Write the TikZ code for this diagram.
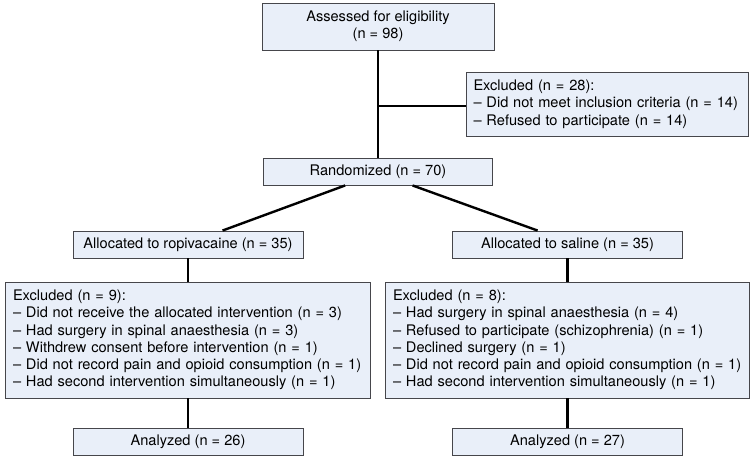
\documentclass[tikz,border=0pt]{standalone}
\usepackage{fontspec}
\setmainfont{TeX Gyre Heros}
\definecolor{boxfill}{RGB}{233,239,249}
\definecolor{boxline}{RGB}{70,70,75}
\begin{document}
\begin{tikzpicture}[x=1pt,y=-1pt,
		every node/.style={font=\fontsize{14.6}{17.3}\selectfont},
		box/.style={draw=boxline,line width=0.9pt,fill=boxfill,inner sep=0pt,minimum height=27pt},
		listbox/.style={box,align=left,text width=#1,inner xsep=7.5pt},
		link/.style={line width=2.4pt}]
		
		\useasboundingbox (0,0) rectangle (755,461);
		
		\node[box,minimum width=232pt,minimum height=47pt,align=center] (assess) at (378,26.5) {Assessed for eligibility\\(n = 98)};
		\node[listbox=267pt,minimum height=64pt] (excl) at (607,104) {Excluded (n = 28):\\– Did not meet inclusion criteria (n = 14)\\– Refused to participate (n = 14)};
		\node[box,minimum width=229pt] (rand) at (378,171.5) {Randomized (n = 70)};
		
		\node[box,minimum width=230pt] (ropi) at (188,244.5) {Allocated to ropivacaine (n = 35)};
		\node[box,minimum width=230pt] (sal) at (567.5,244.5) {Allocated to saline (n = 35)};
		
		\node[listbox=350pt,minimum height=116pt] (exropi) at (188,340) {Excluded (n = 9):\\– Did not receive the allocated intervention (n = 3)\\– Had surgery in spinal anaesthesia (n = 3)\\– Withdrew consent before intervention (n = 1)\\– Did not record pain and opioid consumption (n = 1)\\– Had second intervention simultaneously (n = 1)};
		\node[listbox=349pt,minimum height=116pt] (exsal) at (567.5,340) {Excluded (n = 8):\\– Had surgery in spinal anaesthesia (n = 4)\\– Refused to participate (schizophrenia) (n = 1)\\– Declined surgery (n = 1)\\– Did not record pain and opioid consumption (n = 1)\\– Had second intervention simultaneously (n = 1)};
		
		\node[box,minimum width=230pt] (anropi) at (188,441.5) {Analyzed (n = 26)};
		\node[box,minimum width=230pt] (ansal) at (567.5,441.5) {Analyzed (n = 27)};
		
		\draw[link] (assess.south) -- coordinate[pos=0.52] (fork) (rand.north);
		\draw[link] (fork) -- (fork -| excl.west);
		\draw[link] (rand.203.5) -- (ropi.22.9);
		\draw[link] (rand.338.9) -- (sal.155.8);
		\draw[link] (ropi.south) -- (exropi.north);
		\draw[link] (sal.south) -- (exsal.north);
		\draw[link] (exropi.south) -- (anropi.north);
		\draw[link] (exsal.south) -- (ansal.north);
		\end{tikzpicture}
\end{document}
